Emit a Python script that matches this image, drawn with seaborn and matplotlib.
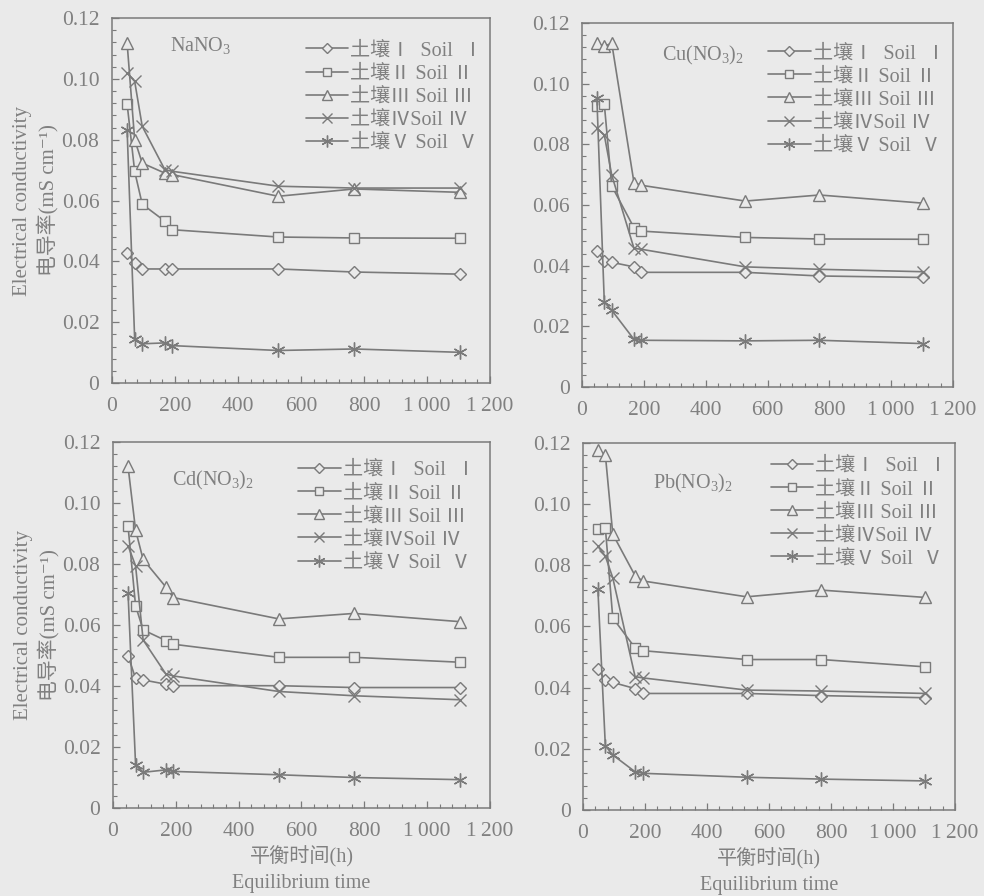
import numpy as np
import pandas as pd
import matplotlib
matplotlib.use("Agg")
import matplotlib.pyplot as plt
from matplotlib.lines import Line2D
from matplotlib.ticker import MultipleLocator, FuncFormatter
import seaborn as sns

# ---------------- data ----------------
hours = [48, 72, 96, 168, 192, 528, 768, 1104]
soils = ["土壤Ⅰ  Soil  Ⅰ", "土壤Ⅱ Soil Ⅱ", "土壤Ⅲ Soil Ⅲ", "土壤ⅣSoil Ⅳ", "土壤Ⅴ Soil  Ⅴ"]
salts = ["NaNO$_3$", "Cu(NO$_3$)$_2$", "Cd(NO$_3$)$_2$", "Pb(NO$_3$)$_2$"]

na_I   = [0.0427, 0.0395, 0.0375, 0.0375, 0.0375, 0.0375, 0.0365, 0.0358]
na_II  = [0.0918, 0.0696, 0.0588, 0.0532, 0.0504, 0.0480, 0.0477, 0.0476]
na_III = [0.1118, 0.0800, 0.0723, 0.0690, 0.0685, 0.0614, 0.0638, 0.0627]
na_IV  = [0.1019, 0.0992, 0.0844, 0.0701, 0.0696, 0.0647, 0.0641, 0.0641]
na_V   = [0.0833, 0.0145, 0.0129, 0.0132, 0.0123, 0.0107, 0.0112, 0.0101]

cu_I   = [0.0449, 0.0416, 0.0411, 0.0396, 0.0378, 0.0378, 0.0366, 0.0361]
cu_II  = [0.0927, 0.0933, 0.0663, 0.0525, 0.0514, 0.0493, 0.0488, 0.0487]
cu_III = [0.1134, 0.1123, 0.1134, 0.0674, 0.0665, 0.0613, 0.0633, 0.0606]
cu_IV  = [0.0853, 0.0831, 0.0699, 0.0457, 0.0454, 0.0396, 0.0388, 0.0380]
cu_V   = [0.0952, 0.0280, 0.0253, 0.0157, 0.0154, 0.0152, 0.0154, 0.0143]

cd_I   = [0.0499, 0.0425, 0.0420, 0.0406, 0.0401, 0.0401, 0.0395, 0.0395]
cd_II  = [0.0924, 0.0663, 0.0584, 0.0549, 0.0537, 0.0494, 0.0494, 0.0478]
cd_III = [0.1120, 0.0911, 0.0815, 0.0725, 0.0690, 0.0620, 0.0638, 0.0611]
cd_IV  = [0.0860, 0.0794, 0.0551, 0.0440, 0.0433, 0.0382, 0.0368, 0.0355]
cd_V   = [0.0704, 0.0142, 0.0117, 0.0125, 0.0120, 0.0109, 0.0100, 0.0093]

pb_I   = [0.0460, 0.0425, 0.0417, 0.0397, 0.0381, 0.0381, 0.0374, 0.0367]
pb_II  = [0.0920, 0.0923, 0.0628, 0.0530, 0.0521, 0.0492, 0.0492, 0.0468]
pb_III = [0.1176, 0.1162, 0.0902, 0.0766, 0.0749, 0.0697, 0.0719, 0.0695]
pb_IV  = [0.0862, 0.0830, 0.0759, 0.0436, 0.0432, 0.0392, 0.0389, 0.0381]
pb_V   = [0.0721, 0.0210, 0.0180, 0.0125, 0.0120, 0.0107, 0.0101, 0.0095]

panels = [
    [na_I, na_II, na_III, na_IV, na_V],
    [cu_I, cu_II, cu_III, cu_IV, cu_V],
    [cd_I, cd_II, cd_III, cd_IV, cd_V],
    [pb_I, pb_II, pb_III, pb_IV, pb_V],
]

# ---------------- style ----------------
sns.set_theme(style="white")
BG = "#eaeaea"
LC = "#7a7a7a"
TC = "#808080"
FAM = ["Liberation Serif", "Noto Sans CJK SC", "DejaVu Sans"]
plt.rcParams["font.family"] = FAM
plt.rcParams["mathtext.default"] = "regular"
plt.rcParams["axes.unicode_minus"] = False

markers = ["D", "s", "^", "x", (6, 2, 0)]
msizes = [6, 6.5, 8, 8, 10]

fig = plt.figure(figsize=(9.84, 8.96), dpi=100, facecolor=BG)
rects = [
    (0.1138, 0.5725, 0.3842, 0.4074),
    (0.5915, 0.5681, 0.3770, 0.4062),
    (0.1148, 0.0982, 0.3831, 0.4085),
    (0.5925, 0.0960, 0.3780, 0.4096),
]
title_pos = [(0.153, 0.926), (0.216, 0.912), (0.156, 0.896), (0.188, 0.891)]
leg_anchor = [(0.982, 0.936), (0.980, 0.942), (0.962, 0.948), (0.982, 0.962)]

def xfmt(v, pos):
    v = int(round(v))
    if v >= 1000:
        return f"{v // 1000}\u2009{v % 1000:03d}"
    return str(v)

def yfmt(v, pos):
    if abs(v) < 1e-9:
        return "0"
    return f"{v:.2f}"

for k, rect in enumerate(rects):
    ax = fig.add_axes(rect)
    ax.set_facecolor(BG)
    rows = []
    for s, vals in zip(soils, panels[k]):
        for h, v in zip(hours, vals):
            rows.append({"time": h, "ec": v, "soil": s})
    df = pd.DataFrame(rows)
    for i, s in enumerate(soils):
        sns.lineplot(data=df[df["soil"] == s], x="time", y="ec", ax=ax,
                     color=LC, marker=markers[i], markersize=msizes[i],
                     markeredgecolor=LC, markerfacecolor=BG, markeredgewidth=1.0,
                     linewidth=1.2, legend=False)
    ax.set_xlim(0, 1200)
    ax.set_ylim(0, 0.12)
    ax.xaxis.set_major_locator(MultipleLocator(200))
    ax.xaxis.set_minor_locator(MultipleLocator(40))
    ax.yaxis.set_major_locator(MultipleLocator(0.02))
    ax.yaxis.set_minor_locator(MultipleLocator(0.004))
    ax.xaxis.set_major_formatter(FuncFormatter(xfmt))
    ax.yaxis.set_major_formatter(FuncFormatter(yfmt))
    ax.tick_params(which="both", direction="in", colors=LC, labelcolor=TC,
                   labelsize=15.5, bottom=True, left=True, top=False, right=False)
    ax.tick_params(which="major", length=5, width=0.9)
    ax.tick_params(axis="x", which="major", pad=10)
    ax.tick_params(axis="y", which="major", pad=9)
    ax.tick_params(which="minor", length=3, width=0.8)
    for sp in ax.spines.values():
        sp.set_color(LC)
        sp.set_linewidth(1.1)
    ax.set_xlabel("")
    ax.set_ylabel("")
    if k in (0, 2):
        ax.set_ylabel("Electrical conductivity\n电导率(mS cm⁻¹)", color=TC,
                      fontsize=15, labelpad=2, linespacing=1.3)
    if k in (2, 3):
        ax.set_xlabel("平衡时间(h)\nEquilibrium time", color=TC,
                      fontsize=14.5, labelpad=4, linespacing=1.45)
    ax.text(title_pos[k][0], title_pos[k][1], salts[k], transform=ax.transAxes,
            color=TC, fontsize=14.5, va="center", ha="left")
    handles = [Line2D([], [], color=LC, marker=markers[i], markersize=msizes[i] * 0.85,
                      markeredgecolor=LC, markerfacecolor=BG, markeredgewidth=1.0,
                      linewidth=1.2) for i in range(5)]
    leg = ax.legend(handles, soils, loc="upper right", bbox_to_anchor=leg_anchor[k],
                    frameon=False, fontsize=14.5, handlelength=2.1, handletextpad=0.1,
                    labelspacing=0.2, borderaxespad=0.0, borderpad=0.0)
    for t in leg.get_texts():
        t.set_color(TC)

fig.savefig("out.png", dpi=100, facecolor=BG)
